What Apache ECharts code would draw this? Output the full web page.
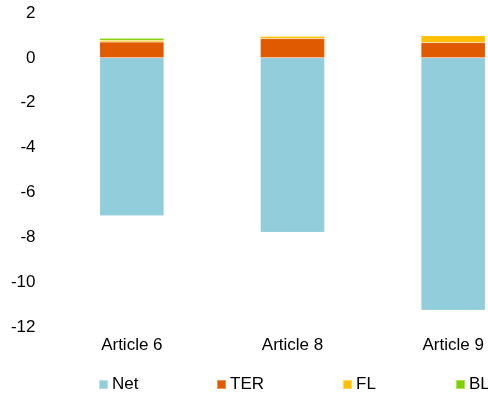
<!DOCTYPE html>
<html>
<head>
<meta charset="utf-8">
<script src="https://cdn.jsdelivr.net/npm/echarts@6/dist/echarts.min.js"></script>
<style>
  html, body { margin: 0; padding: 0; background: #fff; }
  #chart { width: 488px; height: 396px; }
</style>
</head>
<body>
<div id="chart"></div>
<script>
// Stacked contributions per article
const categories = ['Article 6', 'Article 8', 'Article 9'];
const netValues = [-7.04, -7.78, -11.25];
const terValues = [0.71, 0.86, 0.68];
const flValues = [0.07, 0.10, 0.31];
const blValues = [0.09, 0.03, 0.01];
const yTicks = { min: -12, max: 2, interval: 2 };

const seriesDefs = [
  { name: 'Net', data: netValues, color: '#92CDDC' },
  { name: 'TER', data: terValues, color: '#DF5A00' },
  { name: 'FL', data: flValues, color: '#FFC000' },
  { name: 'BL', data: blValues, color: '#7FD000' }
];
const legendLefts = [98, 216, 342, 455];

const font = 'Liberation Sans, Arial, sans-serif';
const chart = echarts.init(document.getElementById('chart'), null, { renderer: 'canvas' });

chart.setOption({
  animation: false,
  backgroundColor: '#ffffff',
  // plot area runs past the right edge of the canvas
  grid: { left: 51.5, width: 482, top: 13, height: 314, outerBoundsMode: 'none', containLabel: false },
  legend: seriesDefs.map((s, i) => ({
    data: [s.name],
    left: legendLefts[i],
    top: 376,
    icon: 'rect',
    itemWidth: 9,
    itemHeight: 9,
    itemGap: 0,
    padding: 0,
    textStyle: { fontFamily: font, fontSize: 17, color: '#000', padding: [0, 0, 0, -1] }
  })),
  xAxis: {
    type: 'category',
    data: categories,
    axisLine: { show: false },
    axisTick: { show: false },
    axisLabel: { fontFamily: font, fontSize: 17, color: '#000', margin: 10 }
  },
  yAxis: {
    type: 'value',
    min: yTicks.min,
    max: yTicks.max,
    interval: yTicks.interval,
    axisLine: { show: false },
    axisTick: { show: false },
    splitLine: { show: false },
    axisLabel: { fontFamily: font, fontSize: 17, color: '#000', margin: 16 }
  },
  series: seriesDefs.map(s => ({
    name: s.name,
    type: 'bar',
    stack: 'total',
    barWidth: '40%',
    data: s.data,
    itemStyle: { color: s.color, borderColor: 'rgba(255,255,255,0.35)', borderWidth: 0.5 }
  }))
});
</script>
</body>
</html>
